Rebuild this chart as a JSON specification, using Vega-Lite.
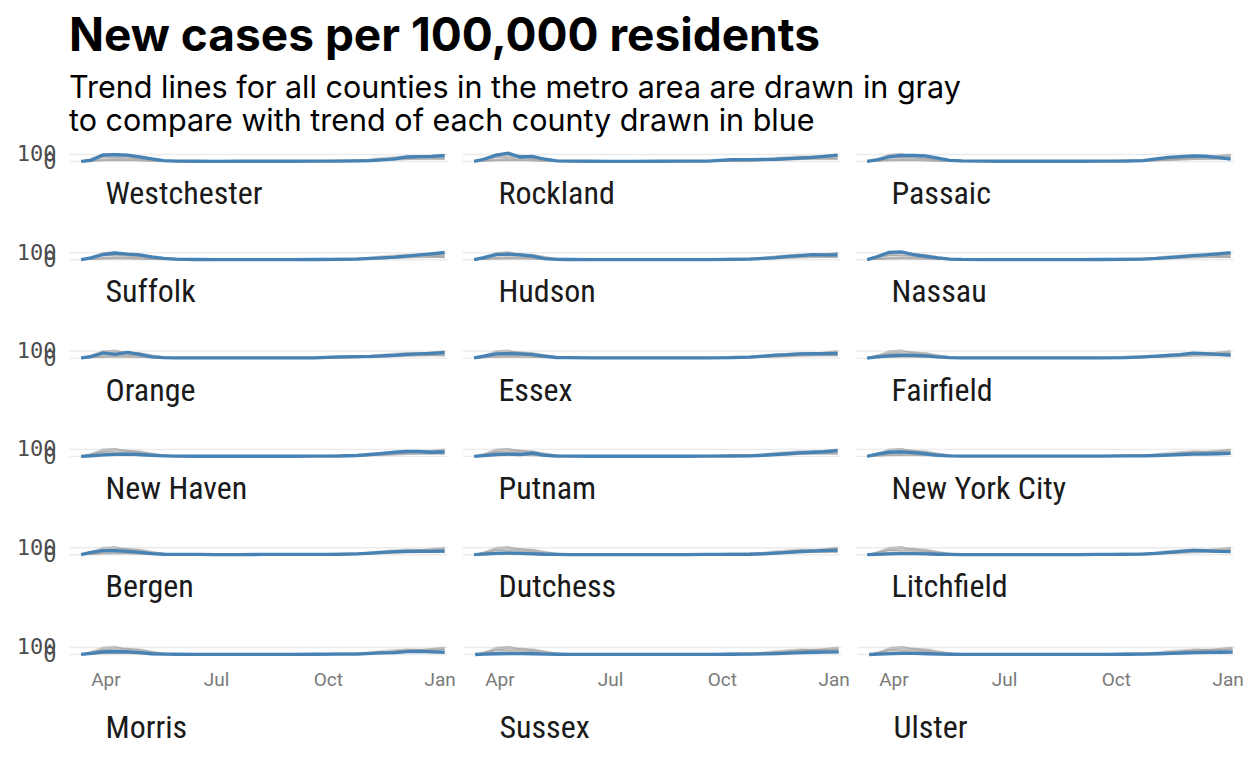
{
  "$schema": "https://vega.github.io/schema/vega-lite/v6.json",
  "background": "white",
  "padding": {"left": 16, "top": 14, "right": 2, "bottom": 6},
  "title": {
    "text": "New cases per 100,000 residents",
    "subtitle": ["Trend lines for all counties in the metro area are drawn in gray", "to compare with trend of each county drawn in blue"],
    "anchor": "start",
    "frame": "group",
    "font": "Inter, Roboto, sans-serif",
    "fontSize": 46,
    "fontWeight": "bold",
    "color": "#000000",
    "subtitleFont": "Inter, Roboto, sans-serif",
    "subtitleFontSize": 30.5,
    "subtitleColor": "#000000",
    "subtitleLineHeight": 33,
    "subtitlePadding": 13,
    "offset": 4
  },
  "data": {"values": [
    {"county":"Westchester","date":"2020-03-12","value":2},{"county":"Westchester","date":"2020-03-20","value":15},{"county":"Westchester","date":"2020-03-30","value":88},{"county":"Westchester","date":"2020-04-09","value":90},{"county":"Westchester","date":"2020-04-19","value":85},{"county":"Westchester","date":"2020-04-29","value":60},{"county":"Westchester","date":"2020-05-09","value":35},{"county":"Westchester","date":"2020-05-19","value":12},{"county":"Westchester","date":"2020-05-29","value":6},{"county":"Westchester","date":"2020-06-15","value":3},{"county":"Westchester","date":"2020-07-01","value":2},{"county":"Westchester","date":"2020-07-20","value":3},{"county":"Westchester","date":"2020-08-10","value":3},{"county":"Westchester","date":"2020-09-01","value":3},{"county":"Westchester","date":"2020-09-20","value":4},{"county":"Westchester","date":"2020-10-10","value":5},{"county":"Westchester","date":"2020-10-25","value":8},{"county":"Westchester","date":"2020-11-05","value":12},{"county":"Westchester","date":"2020-11-15","value":22},{"county":"Westchester","date":"2020-11-25","value":35},{"county":"Westchester","date":"2020-12-05","value":60},{"county":"Westchester","date":"2020-12-15","value":65},{"county":"Westchester","date":"2020-12-25","value":68},{"county":"Westchester","date":"2021-01-05","value":78},
    {"county":"Rockland","date":"2020-03-12","value":2},{"county":"Rockland","date":"2020-03-20","value":30},{"county":"Rockland","date":"2020-03-30","value":85},{"county":"Rockland","date":"2020-04-09","value":110},{"county":"Rockland","date":"2020-04-19","value":60},{"county":"Rockland","date":"2020-04-29","value":68},{"county":"Rockland","date":"2020-05-09","value":30},{"county":"Rockland","date":"2020-05-19","value":8},{"county":"Rockland","date":"2020-05-29","value":5},{"county":"Rockland","date":"2020-06-15","value":3},{"county":"Rockland","date":"2020-07-01","value":2},{"county":"Rockland","date":"2020-07-20","value":2},{"county":"Rockland","date":"2020-08-10","value":3},{"county":"Rockland","date":"2020-09-01","value":4},{"county":"Rockland","date":"2020-09-20","value":6},{"county":"Rockland","date":"2020-10-10","value":25},{"county":"Rockland","date":"2020-10-25","value":25},{"county":"Rockland","date":"2020-11-05","value":27},{"county":"Rockland","date":"2020-11-15","value":30},{"county":"Rockland","date":"2020-11-25","value":38},{"county":"Rockland","date":"2020-12-05","value":45},{"county":"Rockland","date":"2020-12-15","value":55},{"county":"Rockland","date":"2020-12-25","value":68},{"county":"Rockland","date":"2021-01-05","value":85},
    {"county":"Passaic","date":"2020-03-12","value":2},{"county":"Passaic","date":"2020-03-20","value":20},{"county":"Passaic","date":"2020-03-30","value":60},{"county":"Passaic","date":"2020-04-09","value":80},{"county":"Passaic","date":"2020-04-19","value":80},{"county":"Passaic","date":"2020-04-29","value":75},{"county":"Passaic","date":"2020-05-09","value":45},{"county":"Passaic","date":"2020-05-19","value":15},{"county":"Passaic","date":"2020-05-29","value":8},{"county":"Passaic","date":"2020-06-15","value":4},{"county":"Passaic","date":"2020-07-01","value":3},{"county":"Passaic","date":"2020-07-20","value":3},{"county":"Passaic","date":"2020-08-10","value":3},{"county":"Passaic","date":"2020-09-01","value":3},{"county":"Passaic","date":"2020-09-20","value":4},{"county":"Passaic","date":"2020-10-10","value":6},{"county":"Passaic","date":"2020-10-25","value":12},{"county":"Passaic","date":"2020-11-05","value":35},{"county":"Passaic","date":"2020-11-15","value":55},{"county":"Passaic","date":"2020-11-25","value":65},{"county":"Passaic","date":"2020-12-05","value":75},{"county":"Passaic","date":"2020-12-15","value":70},{"county":"Passaic","date":"2020-12-25","value":55},{"county":"Passaic","date":"2021-01-05","value":30},
    {"county":"Suffolk","date":"2020-03-12","value":2},{"county":"Suffolk","date":"2020-03-20","value":25},{"county":"Suffolk","date":"2020-03-30","value":70},{"county":"Suffolk","date":"2020-04-09","value":90},{"county":"Suffolk","date":"2020-04-19","value":75},{"county":"Suffolk","date":"2020-04-29","value":65},{"county":"Suffolk","date":"2020-05-09","value":40},{"county":"Suffolk","date":"2020-05-19","value":20},{"county":"Suffolk","date":"2020-05-29","value":8},{"county":"Suffolk","date":"2020-06-15","value":4},{"county":"Suffolk","date":"2020-07-01","value":3},{"county":"Suffolk","date":"2020-07-20","value":3},{"county":"Suffolk","date":"2020-08-10","value":3},{"county":"Suffolk","date":"2020-09-01","value":3},{"county":"Suffolk","date":"2020-09-20","value":4},{"county":"Suffolk","date":"2020-10-10","value":5},{"county":"Suffolk","date":"2020-10-25","value":10},{"county":"Suffolk","date":"2020-11-05","value":18},{"county":"Suffolk","date":"2020-11-15","value":25},{"county":"Suffolk","date":"2020-11-25","value":35},{"county":"Suffolk","date":"2020-12-05","value":50},{"county":"Suffolk","date":"2020-12-15","value":65},{"county":"Suffolk","date":"2020-12-25","value":80},{"county":"Suffolk","date":"2021-01-05","value":100},
    {"county":"Hudson","date":"2020-03-12","value":2},{"county":"Hudson","date":"2020-03-20","value":30},{"county":"Hudson","date":"2020-03-30","value":70},{"county":"Hudson","date":"2020-04-09","value":75},{"county":"Hudson","date":"2020-04-19","value":65},{"county":"Hudson","date":"2020-04-29","value":50},{"county":"Hudson","date":"2020-05-09","value":15},{"county":"Hudson","date":"2020-05-19","value":6},{"county":"Hudson","date":"2020-05-29","value":4},{"county":"Hudson","date":"2020-06-15","value":3},{"county":"Hudson","date":"2020-07-01","value":2},{"county":"Hudson","date":"2020-07-20","value":2},{"county":"Hudson","date":"2020-08-10","value":3},{"county":"Hudson","date":"2020-09-01","value":3},{"county":"Hudson","date":"2020-09-20","value":3},{"county":"Hudson","date":"2020-10-10","value":6},{"county":"Hudson","date":"2020-10-25","value":10},{"county":"Hudson","date":"2020-11-05","value":18},{"county":"Hudson","date":"2020-11-15","value":28},{"county":"Hudson","date":"2020-11-25","value":45},{"county":"Hudson","date":"2020-12-05","value":55},{"county":"Hudson","date":"2020-12-15","value":68},{"county":"Hudson","date":"2020-12-25","value":65},{"county":"Hudson","date":"2021-01-05","value":65},
    {"county":"Nassau","date":"2020-03-12","value":2},{"county":"Nassau","date":"2020-03-20","value":40},{"county":"Nassau","date":"2020-03-30","value":100},{"county":"Nassau","date":"2020-04-09","value":105},{"county":"Nassau","date":"2020-04-19","value":70},{"county":"Nassau","date":"2020-04-29","value":45},{"county":"Nassau","date":"2020-05-09","value":25},{"county":"Nassau","date":"2020-05-19","value":10},{"county":"Nassau","date":"2020-05-29","value":5},{"county":"Nassau","date":"2020-06-15","value":3},{"county":"Nassau","date":"2020-07-01","value":2},{"county":"Nassau","date":"2020-07-20","value":2},{"county":"Nassau","date":"2020-08-10","value":3},{"county":"Nassau","date":"2020-09-01","value":3},{"county":"Nassau","date":"2020-09-20","value":4},{"county":"Nassau","date":"2020-10-10","value":6},{"county":"Nassau","date":"2020-10-25","value":10},{"county":"Nassau","date":"2020-11-05","value":18},{"county":"Nassau","date":"2020-11-15","value":30},{"county":"Nassau","date":"2020-11-25","value":42},{"county":"Nassau","date":"2020-12-05","value":55},{"county":"Nassau","date":"2020-12-15","value":65},{"county":"Nassau","date":"2020-12-25","value":78},{"county":"Nassau","date":"2021-01-05","value":95},
    {"county":"Orange","date":"2020-03-12","value":2},{"county":"Orange","date":"2020-03-20","value":20},{"county":"Orange","date":"2020-03-30","value":70},{"county":"Orange","date":"2020-04-09","value":50},{"county":"Orange","date":"2020-04-19","value":75},{"county":"Orange","date":"2020-04-29","value":50},{"county":"Orange","date":"2020-05-09","value":15},{"county":"Orange","date":"2020-05-19","value":6},{"county":"Orange","date":"2020-05-29","value":4},{"county":"Orange","date":"2020-06-15","value":3},{"county":"Orange","date":"2020-07-01","value":2},{"county":"Orange","date":"2020-07-20","value":2},{"county":"Orange","date":"2020-08-10","value":3},{"county":"Orange","date":"2020-09-01","value":3},{"county":"Orange","date":"2020-09-20","value":4},{"county":"Orange","date":"2020-10-10","value":15},{"county":"Orange","date":"2020-10-25","value":20},{"county":"Orange","date":"2020-11-05","value":22},{"county":"Orange","date":"2020-11-15","value":30},{"county":"Orange","date":"2020-11-25","value":38},{"county":"Orange","date":"2020-12-05","value":50},{"county":"Orange","date":"2020-12-15","value":55},{"county":"Orange","date":"2020-12-25","value":62},{"county":"Orange","date":"2021-01-05","value":72},
    {"county":"Essex","date":"2020-03-12","value":2},{"county":"Essex","date":"2020-03-20","value":25},{"county":"Essex","date":"2020-03-30","value":55},{"county":"Essex","date":"2020-04-09","value":60},{"county":"Essex","date":"2020-04-19","value":55},{"county":"Essex","date":"2020-04-29","value":45},{"county":"Essex","date":"2020-05-09","value":25},{"county":"Essex","date":"2020-05-19","value":8},{"county":"Essex","date":"2020-05-29","value":5},{"county":"Essex","date":"2020-06-15","value":3},{"county":"Essex","date":"2020-07-01","value":2},{"county":"Essex","date":"2020-07-20","value":2},{"county":"Essex","date":"2020-08-10","value":3},{"county":"Essex","date":"2020-09-01","value":3},{"county":"Essex","date":"2020-09-20","value":3},{"county":"Essex","date":"2020-10-10","value":5},{"county":"Essex","date":"2020-10-25","value":12},{"county":"Essex","date":"2020-11-05","value":25},{"county":"Essex","date":"2020-11-15","value":40},{"county":"Essex","date":"2020-11-25","value":45},{"county":"Essex","date":"2020-12-05","value":55},{"county":"Essex","date":"2020-12-15","value":58},{"county":"Essex","date":"2020-12-25","value":60},{"county":"Essex","date":"2021-01-05","value":62},
    {"county":"Fairfield","date":"2020-03-12","value":1},{"county":"Fairfield","date":"2020-03-20","value":15},{"county":"Fairfield","date":"2020-03-30","value":30},{"county":"Fairfield","date":"2020-04-09","value":35},{"county":"Fairfield","date":"2020-04-19","value":35},{"county":"Fairfield","date":"2020-04-29","value":30},{"county":"Fairfield","date":"2020-05-09","value":15},{"county":"Fairfield","date":"2020-05-19","value":6},{"county":"Fairfield","date":"2020-05-29","value":3},{"county":"Fairfield","date":"2020-06-15","value":2},{"county":"Fairfield","date":"2020-07-01","value":2},{"county":"Fairfield","date":"2020-07-20","value":2},{"county":"Fairfield","date":"2020-08-10","value":2},{"county":"Fairfield","date":"2020-09-01","value":2},{"county":"Fairfield","date":"2020-09-20","value":3},{"county":"Fairfield","date":"2020-10-10","value":5},{"county":"Fairfield","date":"2020-10-25","value":15},{"county":"Fairfield","date":"2020-11-05","value":25},{"county":"Fairfield","date":"2020-11-15","value":35},{"county":"Fairfield","date":"2020-11-25","value":45},{"county":"Fairfield","date":"2020-12-05","value":65},{"county":"Fairfield","date":"2020-12-15","value":60},{"county":"Fairfield","date":"2020-12-25","value":50},{"county":"Fairfield","date":"2021-01-05","value":40},
    {"county":"New Haven","date":"2020-03-12","value":1},{"county":"New Haven","date":"2020-03-20","value":8},{"county":"New Haven","date":"2020-03-30","value":20},{"county":"New Haven","date":"2020-04-09","value":28},{"county":"New Haven","date":"2020-04-19","value":30},{"county":"New Haven","date":"2020-04-29","value":25},{"county":"New Haven","date":"2020-05-09","value":15},{"county":"New Haven","date":"2020-05-19","value":8},{"county":"New Haven","date":"2020-05-29","value":4},{"county":"New Haven","date":"2020-06-15","value":2},{"county":"New Haven","date":"2020-07-01","value":2},{"county":"New Haven","date":"2020-07-20","value":2},{"county":"New Haven","date":"2020-08-10","value":2},{"county":"New Haven","date":"2020-09-01","value":2},{"county":"New Haven","date":"2020-09-20","value":3},{"county":"New Haven","date":"2020-10-10","value":5},{"county":"New Haven","date":"2020-10-25","value":12},{"county":"New Haven","date":"2020-11-05","value":25},{"county":"New Haven","date":"2020-11-15","value":40},{"county":"New Haven","date":"2020-11-25","value":55},{"county":"New Haven","date":"2020-12-05","value":68},{"county":"New Haven","date":"2020-12-15","value":65},{"county":"New Haven","date":"2020-12-25","value":55},{"county":"New Haven","date":"2021-01-05","value":60},
    {"county":"Putnam","date":"2020-03-12","value":1},{"county":"Putnam","date":"2020-03-20","value":10},{"county":"Putnam","date":"2020-03-30","value":25},{"county":"Putnam","date":"2020-04-09","value":30},{"county":"Putnam","date":"2020-04-19","value":25},{"county":"Putnam","date":"2020-04-29","value":45},{"county":"Putnam","date":"2020-05-09","value":15},{"county":"Putnam","date":"2020-05-19","value":5},{"county":"Putnam","date":"2020-05-29","value":3},{"county":"Putnam","date":"2020-06-15","value":2},{"county":"Putnam","date":"2020-07-01","value":2},{"county":"Putnam","date":"2020-07-20","value":2},{"county":"Putnam","date":"2020-08-10","value":2},{"county":"Putnam","date":"2020-09-01","value":2},{"county":"Putnam","date":"2020-09-20","value":3},{"county":"Putnam","date":"2020-10-10","value":5},{"county":"Putnam","date":"2020-10-25","value":8},{"county":"Putnam","date":"2020-11-05","value":15},{"county":"Putnam","date":"2020-11-15","value":25},{"county":"Putnam","date":"2020-11-25","value":35},{"county":"Putnam","date":"2020-12-05","value":48},{"county":"Putnam","date":"2020-12-15","value":55},{"county":"Putnam","date":"2020-12-25","value":62},{"county":"Putnam","date":"2021-01-05","value":78},
    {"county":"New York City","date":"2020-03-12","value":1},{"county":"New York City","date":"2020-03-20","value":30},{"county":"New York City","date":"2020-03-30","value":55},{"county":"New York City","date":"2020-04-09","value":60},{"county":"New York City","date":"2020-04-19","value":50},{"county":"New York City","date":"2020-04-29","value":35},{"county":"New York City","date":"2020-05-09","value":15},{"county":"New York City","date":"2020-05-19","value":6},{"county":"New York City","date":"2020-05-29","value":4},{"county":"New York City","date":"2020-06-15","value":3},{"county":"New York City","date":"2020-07-01","value":3},{"county":"New York City","date":"2020-07-20","value":3},{"county":"New York City","date":"2020-08-10","value":3},{"county":"New York City","date":"2020-09-01","value":3},{"county":"New York City","date":"2020-09-20","value":4},{"county":"New York City","date":"2020-10-10","value":6},{"county":"New York City","date":"2020-10-25","value":8},{"county":"New York City","date":"2020-11-05","value":12},{"county":"New York City","date":"2020-11-15","value":18},{"county":"New York City","date":"2020-11-25","value":25},{"county":"New York City","date":"2020-12-05","value":30},{"county":"New York City","date":"2020-12-15","value":32},{"county":"New York City","date":"2020-12-25","value":35},{"county":"New York City","date":"2021-01-05","value":40},
    {"county":"Bergen","date":"2020-03-12","value":2},{"county":"Bergen","date":"2020-03-20","value":30},{"county":"Bergen","date":"2020-03-30","value":55},{"county":"Bergen","date":"2020-04-09","value":55},{"county":"Bergen","date":"2020-04-19","value":45},{"county":"Bergen","date":"2020-04-29","value":30},{"county":"Bergen","date":"2020-05-09","value":15},{"county":"Bergen","date":"2020-05-19","value":6},{"county":"Bergen","date":"2020-05-29","value":4},{"county":"Bergen","date":"2020-06-15","value":3},{"county":"Bergen","date":"2020-07-01","value":2},{"county":"Bergen","date":"2020-07-20","value":2},{"county":"Bergen","date":"2020-08-10","value":3},{"county":"Bergen","date":"2020-09-01","value":3},{"county":"Bergen","date":"2020-09-20","value":3},{"county":"Bergen","date":"2020-10-10","value":5},{"county":"Bergen","date":"2020-10-25","value":10},{"county":"Bergen","date":"2020-11-05","value":20},{"county":"Bergen","date":"2020-11-15","value":30},{"county":"Bergen","date":"2020-11-25","value":40},{"county":"Bergen","date":"2020-12-05","value":45},{"county":"Bergen","date":"2020-12-15","value":45},{"county":"Bergen","date":"2020-12-25","value":45},{"county":"Bergen","date":"2021-01-05","value":48},
    {"county":"Dutchess","date":"2020-03-12","value":1},{"county":"Dutchess","date":"2020-03-20","value":8},{"county":"Dutchess","date":"2020-03-30","value":18},{"county":"Dutchess","date":"2020-04-09","value":20},{"county":"Dutchess","date":"2020-04-19","value":18},{"county":"Dutchess","date":"2020-04-29","value":12},{"county":"Dutchess","date":"2020-05-09","value":6},{"county":"Dutchess","date":"2020-05-19","value":3},{"county":"Dutchess","date":"2020-05-29","value":2},{"county":"Dutchess","date":"2020-06-15","value":2},{"county":"Dutchess","date":"2020-07-01","value":2},{"county":"Dutchess","date":"2020-07-20","value":2},{"county":"Dutchess","date":"2020-08-10","value":2},{"county":"Dutchess","date":"2020-09-01","value":2},{"county":"Dutchess","date":"2020-09-20","value":3},{"county":"Dutchess","date":"2020-10-10","value":4},{"county":"Dutchess","date":"2020-10-25","value":6},{"county":"Dutchess","date":"2020-11-05","value":12},{"county":"Dutchess","date":"2020-11-15","value":20},{"county":"Dutchess","date":"2020-11-25","value":30},{"county":"Dutchess","date":"2020-12-05","value":40},{"county":"Dutchess","date":"2020-12-15","value":48},{"county":"Dutchess","date":"2020-12-25","value":55},{"county":"Dutchess","date":"2021-01-05","value":62},
    {"county":"Litchfield","date":"2020-03-12","value":1},{"county":"Litchfield","date":"2020-03-20","value":5},{"county":"Litchfield","date":"2020-03-30","value":12},{"county":"Litchfield","date":"2020-04-09","value":15},{"county":"Litchfield","date":"2020-04-19","value":15},{"county":"Litchfield","date":"2020-04-29","value":12},{"county":"Litchfield","date":"2020-05-09","value":6},{"county":"Litchfield","date":"2020-05-19","value":3},{"county":"Litchfield","date":"2020-05-29","value":2},{"county":"Litchfield","date":"2020-06-15","value":2},{"county":"Litchfield","date":"2020-07-01","value":2},{"county":"Litchfield","date":"2020-07-20","value":2},{"county":"Litchfield","date":"2020-08-10","value":2},{"county":"Litchfield","date":"2020-09-01","value":2},{"county":"Litchfield","date":"2020-09-20","value":3},{"county":"Litchfield","date":"2020-10-10","value":4},{"county":"Litchfield","date":"2020-10-25","value":8},{"county":"Litchfield","date":"2020-11-05","value":18},{"county":"Litchfield","date":"2020-11-15","value":30},{"county":"Litchfield","date":"2020-11-25","value":45},{"county":"Litchfield","date":"2020-12-05","value":58},{"county":"Litchfield","date":"2020-12-15","value":55},{"county":"Litchfield","date":"2020-12-25","value":45},{"county":"Litchfield","date":"2021-01-05","value":40},
    {"county":"Morris","date":"2020-03-12","value":1},{"county":"Morris","date":"2020-03-20","value":15},{"county":"Morris","date":"2020-03-30","value":35},{"county":"Morris","date":"2020-04-09","value":40},{"county":"Morris","date":"2020-04-19","value":35},{"county":"Morris","date":"2020-04-29","value":25},{"county":"Morris","date":"2020-05-09","value":10},{"county":"Morris","date":"2020-05-19","value":5},{"county":"Morris","date":"2020-05-29","value":3},{"county":"Morris","date":"2020-06-15","value":2},{"county":"Morris","date":"2020-07-01","value":2},{"county":"Morris","date":"2020-07-20","value":2},{"county":"Morris","date":"2020-08-10","value":2},{"county":"Morris","date":"2020-09-01","value":2},{"county":"Morris","date":"2020-09-20","value":3},{"county":"Morris","date":"2020-10-10","value":5},{"county":"Morris","date":"2020-10-25","value":5},{"county":"Morris","date":"2020-11-05","value":15},{"county":"Morris","date":"2020-11-15","value":22},{"county":"Morris","date":"2020-11-25","value":25},{"county":"Morris","date":"2020-12-05","value":38},{"county":"Morris","date":"2020-12-15","value":42},{"county":"Morris","date":"2020-12-25","value":35},{"county":"Morris","date":"2021-01-05","value":28},
    {"county":"Sussex","date":"2020-03-12","value":0},{"county":"Sussex","date":"2020-03-20","value":5},{"county":"Sussex","date":"2020-03-30","value":10},{"county":"Sussex","date":"2020-04-09","value":12},{"county":"Sussex","date":"2020-04-19","value":12},{"county":"Sussex","date":"2020-04-29","value":10},{"county":"Sussex","date":"2020-05-09","value":5},{"county":"Sussex","date":"2020-05-19","value":3},{"county":"Sussex","date":"2020-05-29","value":2},{"county":"Sussex","date":"2020-06-15","value":2},{"county":"Sussex","date":"2020-07-01","value":1},{"county":"Sussex","date":"2020-07-20","value":1},{"county":"Sussex","date":"2020-08-10","value":1},{"county":"Sussex","date":"2020-09-01","value":1},{"county":"Sussex","date":"2020-09-20","value":2},{"county":"Sussex","date":"2020-10-10","value":3},{"county":"Sussex","date":"2020-10-25","value":5},{"county":"Sussex","date":"2020-11-05","value":8},{"county":"Sussex","date":"2020-11-15","value":12},{"county":"Sussex","date":"2020-11-25","value":18},{"county":"Sussex","date":"2020-12-05","value":25},{"county":"Sussex","date":"2020-12-15","value":30},{"county":"Sussex","date":"2020-12-25","value":32},{"county":"Sussex","date":"2021-01-05","value":35},
    {"county":"Ulster","date":"2020-03-12","value":0},{"county":"Ulster","date":"2020-03-20","value":5},{"county":"Ulster","date":"2020-03-30","value":12},{"county":"Ulster","date":"2020-04-09","value":15},{"county":"Ulster","date":"2020-04-19","value":14},{"county":"Ulster","date":"2020-04-29","value":10},{"county":"Ulster","date":"2020-05-09","value":5},{"county":"Ulster","date":"2020-05-19","value":3},{"county":"Ulster","date":"2020-05-29","value":2},{"county":"Ulster","date":"2020-06-15","value":1},{"county":"Ulster","date":"2020-07-01","value":1},{"county":"Ulster","date":"2020-07-20","value":1},{"county":"Ulster","date":"2020-08-10","value":1},{"county":"Ulster","date":"2020-09-01","value":1},{"county":"Ulster","date":"2020-09-20","value":2},{"county":"Ulster","date":"2020-10-10","value":3},{"county":"Ulster","date":"2020-10-25","value":5},{"county":"Ulster","date":"2020-11-05","value":10},{"county":"Ulster","date":"2020-11-15","value":15},{"county":"Ulster","date":"2020-11-25","value":20},{"county":"Ulster","date":"2020-12-05","value":25},{"county":"Ulster","date":"2020-12-15","value":28},{"county":"Ulster","date":"2020-12-25","value":30},{"county":"Ulster","date":"2021-01-05","value":32}
  ]},
  "transform": [
    {"calculate": "['Westchester','Rockland','Passaic','Suffolk','Hudson','Nassau','Orange','Essex','Fairfield','New Haven','Putnam','New York City','Bergen','Dutchess','Litchfield','Morris','Sussex','Ulster']", "as": "panel"},
    {"flatten": ["panel"]}
  ],
  "spacing": 31,
  "vconcat": [
    {
      "transform": [{"filter": {"field": "panel", "oneOf": ["Westchester","Rockland","Passaic","Suffolk","Hudson","Nassau","Orange","Essex","Fairfield","New Haven","Putnam","New York City","Bergen","Dutchess","Litchfield"]}}],
      "facet": {
        "field": "panel",
        "type": "nominal",
        "sort": ["Westchester","Rockland","Passaic","Suffolk","Hudson","Nassau","Orange","Essex","Fairfield","New Haven","Putnam","New York City","Bergen","Dutchess","Litchfield"],
        "header": {"title": null, "labels": false, "labelExpr": "''", "labelFontSize": 0.1, "labelPadding": 0}
      },
      "columns": 3,
      "spacing": {"row": 34.3, "column": 10},
      "spec": {
        "width": 378,
        "height": 10,
        "layer": [
          {
            "mark": {"type": "line", "color": "#a5a5a5", "strokeWidth": 1, "opacity": 0.5},
            "encoding": {
              "x": {"field": "date", "type": "temporal", "title": null,
                    "scale": {"type": "utc", "domain": [{"year": 2020, "month": 3, "date": 2, "utc": true}, {"year": 2021, "month": 1, "date": 7, "utc": true}]},
                    "axis": null},
              "y": {"field": "value", "type": "quantitative", "title": null,
                    "scale": {"domain": [-20, 113], "nice": false, "zero": false},
                    "axis": {"values": [0, 50, 100]}},
              "detail": {"field": "county", "type": "nominal"}
            }
          },
          {
            "transform": [{"filter": "datum.county === datum.panel"}],
            "mark": {"type": "line", "color": "#4682b4", "strokeWidth": 3.3},
            "encoding": {
              "x": {"field": "date", "type": "temporal", "axis": null},
              "y": {"field": "value", "type": "quantitative", "title": null}
            }
          },
          {
            "transform": [{"aggregate": [{"op": "count", "as": "n"}], "groupby": ["panel"]}],
            "mark": {"type": "text", "align": "left", "baseline": "alphabetic", "dy": 41, "font": "Roboto Condensed, sans-serif", "fontSize": 32, "color": "#1a1a1a"},
            "encoding": {
              "x": {"datum": {"year": 2020, "month": 4, "date": 1, "utc": true}, "type": "temporal", "axis": null},
              "y": {"datum": -20, "type": "quantitative", "title": null},
              "text": {"field": "panel", "type": "nominal"}
            }
          }
        ]
      }
    },
    {
      "transform": [{"filter": {"field": "panel", "oneOf": ["Morris","Sussex","Ulster"]}}],
      "facet": {
        "column": {
          "field": "panel",
          "type": "nominal",
          "sort": ["Morris","Sussex","Ulster"],
          "header": {"title": null, "labels": false, "labelExpr": "''", "labelFontSize": 0.1, "labelPadding": 0}
        }
      },
      "spacing": {"column": 7},
      "resolve": {"axis": {"x": "independent"}},
      "spec": {
        "width": 378,
        "height": 10,
        "layer": [
          {
            "mark": {"type": "line", "color": "#a5a5a5", "strokeWidth": 1, "opacity": 0.5},
            "encoding": {
              "x": {"field": "date", "type": "temporal", "title": null,
                    "scale": {"type": "utc", "domain": [{"year": 2020, "month": 3, "date": 2, "utc": true}, {"year": 2021, "month": 1, "date": 7, "utc": true}]},
                    "axis": {"format": "%b", "values": [{"year": 2020, "month": 4, "date": 1, "utc": true}, {"year": 2020, "month": 7, "date": 1, "utc": true}, {"year": 2020, "month": 10, "date": 1, "utc": true}, {"year": 2021, "month": 1, "date": 1, "utc": true}]}},
              "y": {"field": "value", "type": "quantitative", "title": null,
                    "scale": {"domain": [-20, 113], "nice": false, "zero": false},
                    "axis": {"values": [0, 50, 100]}},
              "detail": {"field": "county", "type": "nominal"}
            }
          },
          {
            "transform": [{"filter": "datum.county === datum.panel"}],
            "mark": {"type": "line", "color": "#4682b4", "strokeWidth": 3.3},
            "encoding": {
              "x": {"field": "date", "type": "temporal", "title": null},
              "y": {"field": "value", "type": "quantitative", "title": null}
            }
          },
          {
            "transform": [{"aggregate": [{"op": "count", "as": "n"}], "groupby": ["panel"]}],
            "mark": {"type": "text", "align": "left", "baseline": "alphabetic", "dy": 82, "font": "Roboto Condensed, sans-serif", "fontSize": 32, "color": "#1a1a1a"},
            "encoding": {
              "x": {"datum": {"year": 2020, "month": 4, "date": 1, "utc": true}, "type": "temporal", "title": null},
              "y": {"datum": -20, "type": "quantitative", "title": null},
              "text": {"field": "panel", "type": "nominal"}
            }
          }
        ]
      }
    }
  ],
  "config": {
    "view": {"stroke": null},
    "axis": {"domain": false, "ticks": false, "gridColor": "#ebebeb", "gridWidth": 1.4, "labelOverlap": false, "labelFlush": false},
    "axisX": {"grid": false, "labelFont": "Roboto, sans-serif", "labelFontSize": 19, "labelColor": "#7a7a7a", "labelPadding": 14},
    "axisY": {"labelFont": "DejaVu Sans Mono, monospace", "labelFontSize": 22, "labelColor": "#4d4d4d", "labelPadding": 13}
  }
}
